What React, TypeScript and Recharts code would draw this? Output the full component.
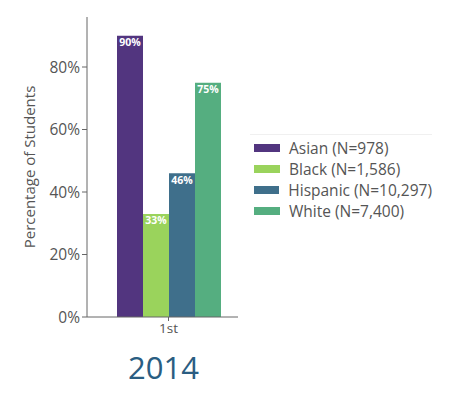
import { BarChart, Bar, XAxis, YAxis, LabelList } from 'recharts'

const categories = ['1st']
const seriesNames = ['Asian (N=978)', 'Black (N=1,586)', 'Hispanic (N=10,297)', 'White (N=7,400)']
const seriesKeys = ['asian', 'black', 'hispanic', 'white']
const seriesValues = [[90], [33], [46], [75]]
const seriesColors = ['#52357f', '#9ad35c', '#3f6f8b', '#55ae80']
const yTicks = [0, 20, 40, 60, 80]
const title = '2014'

const FONT = '"Open Sans", "Segoe UI", sans-serif'

const chartData = categories.map((c, i) => {
  const row: Record<string, string | number> = { category: c }
  seriesKeys.forEach((k, s) => {
    row[k] = seriesValues[s][i]
  })
  return row
})

function LegendBox() {
  return (
    <div style={{ position: 'absolute', left: 250, top: 134, width: 182, borderTop: '1px solid #f0f0f0', paddingTop: 2 }}>
      {seriesNames.map((name, i) => (
        <div key={name} style={{ display: 'flex', alignItems: 'center', height: 21 }}>
          <span style={{ display: 'inline-block', width: 26, height: 8, background: seriesColors[i], marginLeft: 4, marginRight: 9 }} />
          <span style={{ fontSize: 15.5, color: '#555', fontFamily: FONT, whiteSpace: 'nowrap' }}>{name}</span>
        </div>
      ))}
    </div>
  )
}

export default function App() {
  return (
    <div style={{ position: 'absolute', left: 0, top: 0, width: 449, height: 399, background: '#fff' }}>
      <BarChart
        width={449}
        height={399}
        data={chartData}
        margin={{ top: 17, right: 211, bottom: 52, left: 0 }}
        barGap={0}
        barSize={26}
      >
        <XAxis
          dataKey="category"
          height={30}
          stroke="#666"
          padding={{ left: 12, right: 0 }}
          tick={{ fontSize: 13.5, fill: '#555', fontFamily: FONT }}
          tickSize={4}
        />
        <YAxis
          width={87}
          domain={[0, 96]}
          ticks={yTicks}
          tickFormatter={(v: number) => `${v}%`}
          stroke="#666"
          tick={{ fontSize: 15.5, fill: '#555', fontFamily: FONT }}
          tickSize={5}
          label={{
            value: 'Percentage of Students',
            angle: -90,
            position: 'insideLeft',
            offset: 30,
            style: { textAnchor: 'middle', fontSize: 15, fill: '#555', fontFamily: FONT },
          }}
        />
        {seriesKeys.map((k, i) => (
          <Bar key={k} dataKey={k} name={seriesNames[i]} fill={seriesColors[i]} isAnimationActive={false}>
            <LabelList
              dataKey={k}
              position="insideTop"
              offset={3}
              formatter={(v: number) => `${v}%`}
              style={{ fill: '#fff', fontSize: 10.5, fontWeight: 'bold', fontFamily: FONT }}
            />
          </Bar>
        ))}
      </BarChart>
      <LegendBox />
      <div
        style={{
          position: 'absolute',
          left: 82,
          width: 163,
          top: 346,
          textAlign: 'center',
          fontSize: 31,
          color: '#2a5d82',
          fontFamily: FONT,
        }}
      >
        {title}
      </div>
    </div>
  )
}
